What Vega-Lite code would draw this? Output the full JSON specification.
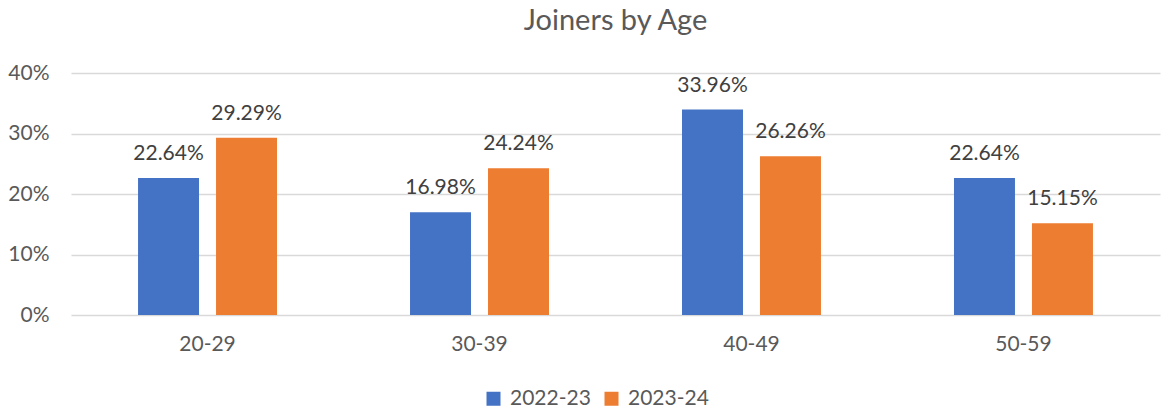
{
  "$schema": "https://vega.github.io/schema/vega-lite/v6.json",
  "width": 1089,
  "height": 242,
  "autosize": "none",
  "padding": {"left": 71, "top": 73, "right": 4, "bottom": 96},
  "background": "white",
  "config": {"view": {"stroke": null}},
  "title": {"text": "Joiners by Age", "fontSize": 29, "font": "Lato", "fontWeight": "normal", "color": "#595959", "anchor": "middle", "offset": 26},
  "data": {"values": [
    {"age": "20-29", "year": "2022-23", "value": 0.2264},
    {"age": "20-29", "year": "2023-24", "value": 0.2929},
    {"age": "30-39", "year": "2022-23", "value": 0.1698},
    {"age": "30-39", "year": "2023-24", "value": 0.2424},
    {"age": "40-49", "year": "2022-23", "value": 0.3396},
    {"age": "40-49", "year": "2023-24", "value": 0.2626},
    {"age": "50-59", "year": "2022-23", "value": 0.2264},
    {"age": "50-59", "year": "2023-24", "value": 0.1515}
  ]},
  "encoding": {
    "x": {"field": "age", "type": "nominal", "title": null,
      "scale": {"paddingInner": 0.489, "paddingOuter": 0.2465},
      "axis": {"labelAngle": 0, "labelFont": "Lato", "labelFontSize": 21, "labelColor": "#595959", "ticks": false, "domain": false, "labelPadding": 18}},
    "xOffset": {"field": "year", "type": "nominal", "scale": {"paddingInner": 0.218, "paddingOuter": 0}},
    "y": {"field": "value", "type": "quantitative", "title": null,
      "scale": {"domain": [0, 0.4], "nice": false},
      "axis": {"format": ".0%", "values": [0, 0.1, 0.2, 0.3, 0.4], "labelFont": "Lato", "labelFontSize": 21, "labelColor": "#595959", "ticks": false, "domain": false, "gridColor": "#D9D9D9", "gridWidth": 1.3, "labelPadding": 22, "labelOverlap": false}}
  },
  "layer": [
    {"mark": {"type": "bar"},
     "encoding": {"color": {"field": "year", "type": "nominal", "title": null,
        "scale": {"domain": ["2022-23", "2023-24"], "range": ["#4472C4", "#ED7D31"]},
        "legend": {"orient": "none", "legendX": 412, "legendY": 315, "direction": "horizontal", "symbolType": "square", "symbolSize": 196, "symbolStrokeWidth": 0, "labelFont": "Lato", "labelFontSize": 21, "labelColor": "#595959", "columnPadding": 10, "labelOffset": 6}}}},
    {"mark": {"type": "text", "baseline": "alphabetic", "dy": -18, "font": "Lato", "fontSize": 21, "color": "#404040"},
     "encoding": {"text": {"field": "value", "type": "quantitative", "format": ".2%"}}}
  ]
}
